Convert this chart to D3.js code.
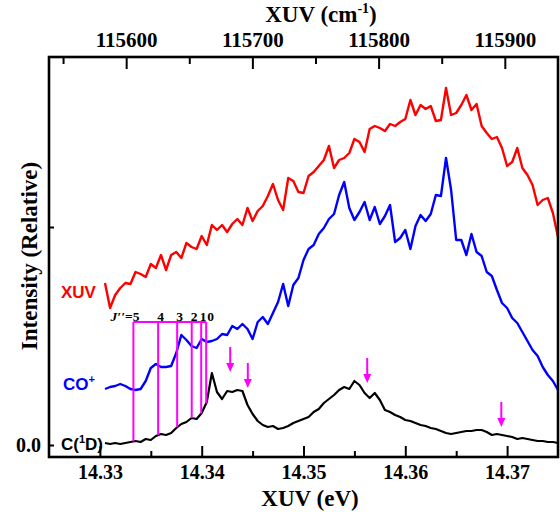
<!DOCTYPE html>
<html>
<head>
<meta charset="utf-8">
<script src="https://cdn.jsdelivr.net/npm/d3@7"></script>
<style>
  html, body { margin: 0; padding: 0; background: #fff; }
  svg { display: block; }
  .serif { font-family: 'Liberation Serif', 'Times New Roman', serif; font-weight: bold; }
  .sans { font-family: 'Liberation Sans', Arial, sans-serif; font-weight: bold; }
</style>
</head>
<body>
<div id="chart"></div>
<script>
// photon energy grid of the scans (eV)
const eStart = 14.3305;
const eStep = 0.0005;

// relative intensities (arbitrary units, 0 = C(1D) baseline)
const xuvSignal = [
  162, 137, 150, 157, 162, 161, 173, 171, 168, 181,
  177, 190, 175, 190, 193, 187, 202, 198, 196, 209,
  200, 220, 215, 220, 213, 221, 226, 220, 237, 224,
  234, 239, 249, 261, 245, 235, 267, 264, 253, 252,
  269, 273, 279, 285, 299, 277, 285, 287, 292, 306,
  303, 293, 316, 319, 317, 314, 321, 319, 323, 326,
  345, 330, 340, 336, 339, 324, 325, 357, 330, 332,
  340, 350, 335, 341, 319, 312, 306, 308, 297, 279,
  283, 297, 277, 270, 260, 240, 245, 247, 232, 208
];
const coIonSignal = [
  56, 58, 59, 61, 59, 56, 55, 56, 64, 77,
  81, 78, 78, 79, 92, 110, 105, 99, 97, 106,
  103, 104, 106, 111, 110, 119, 116, 121, 116, 106,
  123, 128, 121, 132, 143, 161, 139, 160, 167, 185,
  196, 200, 211, 217, 226, 231, 250, 263, 237, 225,
  233, 243, 225, 238, 221, 229, 240, 203, 207, 215,
  196, 219, 230, 224, 231, 250, 249, 287, 255, 205,
  205, 190, 211, 193, 189, 173, 169, 155, 142, 137,
  127, 122, 113, 104, 95, 89, 78, 70, 64, 55
];
const c1dSignal = [
  2, 1, 2, 1, 2, 3, 4, 3, 6, 5,
  9, 11, 10, 12, 17, 21, 23, 27, 26, 32,
  43, 72, 53, 46, 54, 53, 55, 54, 40, 31,
  24, 20, 18, 19, 16, 17, 19, 22, 24, 26,
  28, 33, 36, 42, 46, 50, 55, 58, 56, 64,
  60, 52, 47, 52, 45, 35, 33, 30, 28, 25,
  24, 22, 20, 19, 17, 16, 14, 12, 11, 12,
  13, 14, 14, 15, 15, 13, 10, 11, 10, 9,
  8, 6, 7, 6, 5, 4, 4, 3, 3, 2
];

// axis ticks
const eVTicks = [14.33, 14.34, 14.35, 14.36, 14.37];
const eVMinorTicks = [14.335, 14.345, 14.355, 14.365];
const cmTicks = [115600, 115700, 115800, 115900];
const cmMinorTicks = [115550, 115650, 115750, 115850];
const intensityTicks = [0, 218];

// rotational assignment J'' of the C(1D) onset
const jLevels = ['5', '4', '3', '2', '1', '0'];
const jEnergies = [14.33329, 14.33572, 14.33759, 14.33902, 14.33995, 14.34044];
const jLabelShift = [0, -1, -1, -1, -1.5, 1];
const jBarTop = 123;

// arrows marking C(1D) features
const arrowEnergies = [14.3428, 14.34453, 14.35626, 14.36943];
const arrowTips = [73, 57, 62, 18];

const EV_TO_CM = 8065.54;

function drawChart (el) {
    const width = 560;
    const height = 513;
    const margins = { top: 57, right: 2, bottom: 56, left: 49 };
    const innerW = width - margins.left - margins.right;
    const innerH = height - margins.top - margins.bottom;

    const svg = d3.select(el).append('svg')
        .attr('width', width)
        .attr('height', height);

    const x = d3.scaleLinear()
        .domain([14.325, 14.375])
        .range([margins.left, margins.left + innerW]);
    const xCm = d3.scaleLinear()
        .domain(x.domain().map(d => d * EV_TO_CM))
        .range(x.range());
    const y = d3.scaleLinear()
        .domain([-12, 388])
        .range([margins.top + innerH, margins.top]);

    const toPoints = (vals) => vals.map((v, i) => [eStart + i * eStep, v]);
    const line = d3.line().x(d => x(d[0])).y(d => y(d[1]));

    // spectra
    const series = [
        { vals: xuvSignal, color: '#ff0000', w: 2.4 },
        { vals: coIonSignal, color: '#0000ff', w: 2.4 },
        { vals: c1dSignal, color: '#000000', w: 2.2 }
    ];
    series.forEach(s => {
        svg.append('path')
            .datum(toPoints(s.vals))
            .attr('fill', 'none')
            .attr('stroke', s.color)
            .attr('stroke-width', s.w)
            .attr('stroke-linejoin', 'round')
            .attr('d', line);
    });

    // J'' comb down to the C(1D) trace
    const c1dAt = (e) => {
        const t = (e - eStart) / eStep;
        const i = Math.max(0, Math.min(c1dSignal.length - 2, Math.floor(t)));
        const f = t - i;
        return c1dSignal[i] * (1 - f) + c1dSignal[i + 1] * f;
    };
    const comb = svg.append('g').attr('stroke', '#ff00ff').attr('stroke-width', 2);
    comb.append('line')
        .attr('x1', x(jEnergies[0])).attr('x2', x(jEnergies[jEnergies.length - 1]))
        .attr('y1', y(jBarTop)).attr('y2', y(jBarTop));
    comb.selectAll('line.j')
        .data(jEnergies)
        .enter()
        .append('line')
        .attr('class', 'j')
        .attr('x1', d => x(d)).attr('x2', d => x(d))
        .attr('y1', y(jBarTop))
        .attr('y2', d => y(c1dAt(d)));

    const jText = svg.append('g').attr('class', 'serif').attr('font-size', 13.5);
    jLevels.forEach((lab, i) => {
        const t = jText.append('text')
            .attr('x', x(jEnergies[i]) + jLabelShift[i])
            .attr('y', y(jBarTop) - 1.5);
        if (i === 0) {
            t.attr('text-anchor', 'end').attr('x', x(jEnergies[i]) + 6);
            t.append('tspan').attr('font-style', 'italic').text('J\u2032\u2032');
            t.append('tspan').text('=' + lab);
        } else {
            t.text(lab);
        }
    });

    // arrows
    const arrows = svg.append('g').attr('fill', '#ff00ff').attr('stroke', '#ff00ff');
    arrowEnergies.forEach((e, i) => {
        const ax = x(e);
        const ay = y(arrowTips[i]);
        arrows.append('line')
            .attr('x1', ax).attr('x2', ax)
            .attr('y1', ay - 25).attr('y2', ay - 7)
            .attr('stroke-width', 2);
        arrows.append('path')
            .attr('stroke', 'none')
            .attr('d', `M${ax - 4},${ay - 9}L${ax + 4},${ay - 9}L${ax},${ay}Z`);
    });

    // axes, ticks inward
    const styleAxis = (size) => (g) => {
        g.select('.domain').remove();
        g.selectAll('line').attr('stroke', '#000').attr('stroke-width', 2);
        g.selectAll('text').attr('class', 'serif').attr('font-size', size).attr('fill', '#000');
    };
    svg.append('g')
        .attr('transform', `translate(0,${margins.top + innerH})`)
        .call(d3.axisBottom(x).tickValues(eVTicks).tickSize(-11).tickPadding(8).tickFormat(d3.format('.2f')))
        .call(styleAxis(20));
    svg.append('g')
        .attr('transform', `translate(0,${margins.top + innerH})`)
        .call(d3.axisBottom(x).tickValues(eVMinorTicks).tickSize(-6).tickFormat(''))
        .call(styleAxis(20));
    svg.append('g')
        .attr('transform', `translate(0,${margins.top})`)
        .call(d3.axisTop(xCm).tickValues(cmTicks).tickSize(-12).tickPadding(10).tickFormat(d3.format('d')))
        .call(styleAxis(21));
    svg.append('g')
        .attr('transform', `translate(0,${margins.top})`)
        .call(d3.axisTop(xCm).tickValues(cmMinorTicks).tickSize(-7).tickFormat(''))
        .call(styleAxis(21));
    svg.append('g')
        .attr('transform', `translate(${margins.left},0)`)
        .call(d3.axisLeft(y).tickValues(intensityTicks).tickSize(-5).tickPadding(8)
            .tickFormat(d => d === 0 ? '0.0' : ''))
        .call(styleAxis(20));

    svg.append('rect')
        .attr('x', margins.left).attr('y', margins.top)
        .attr('width', innerW).attr('height', innerH)
        .attr('fill', 'none')
        .attr('stroke', '#000')
        .attr('stroke-width', 2.6);

    // axis titles
    svg.append('text')
        .attr('class', 'serif').attr('font-size', 23)
        .attr('text-anchor', 'middle')
        .attr('x', 310).attr('y', 506)
        .text('XUV (eV)');
    const topTitle = svg.append('text')
        .attr('class', 'serif').attr('font-size', 23)
        .attr('text-anchor', 'middle')
        .attr('x', 321).attr('y', 22);
    topTitle.append('tspan').text('XUV (cm');
    topTitle.append('tspan').attr('font-size', 14).attr('dy', -9).text('-1');
    topTitle.append('tspan').attr('dy', 9).text(')');
    svg.append('text')
        .attr('class', 'serif').attr('font-size', 23)
        .attr('text-anchor', 'middle')
        .attr('transform', 'translate(37,256) rotate(-90)')
        .text('Intensity (Relative)');

    // trace labels
    const labels = svg.append('g').attr('class', 'sans').attr('font-size', 17);
    labels.append('text').attr('x', 61).attr('y', 298).attr('fill', '#ff0000').text('XUV');
    const co = labels.append('text').attr('x', 63).attr('y', 390).attr('fill', '#0000ff');
    co.append('tspan').text('CO');
    co.append('tspan').attr('font-size', 11).attr('dy', -7).text('+');
    const cd = labels.append('text').attr('x', 61).attr('y', 450).attr('fill', '#000');
    cd.append('tspan').text('C(');
    cd.append('tspan').attr('font-size', 11).attr('dy', -7).text('1');
    cd.append('tspan').attr('dy', 7).text('D)');
}

drawChart(document.getElementById('chart'));
</script>
</body>
</html>
